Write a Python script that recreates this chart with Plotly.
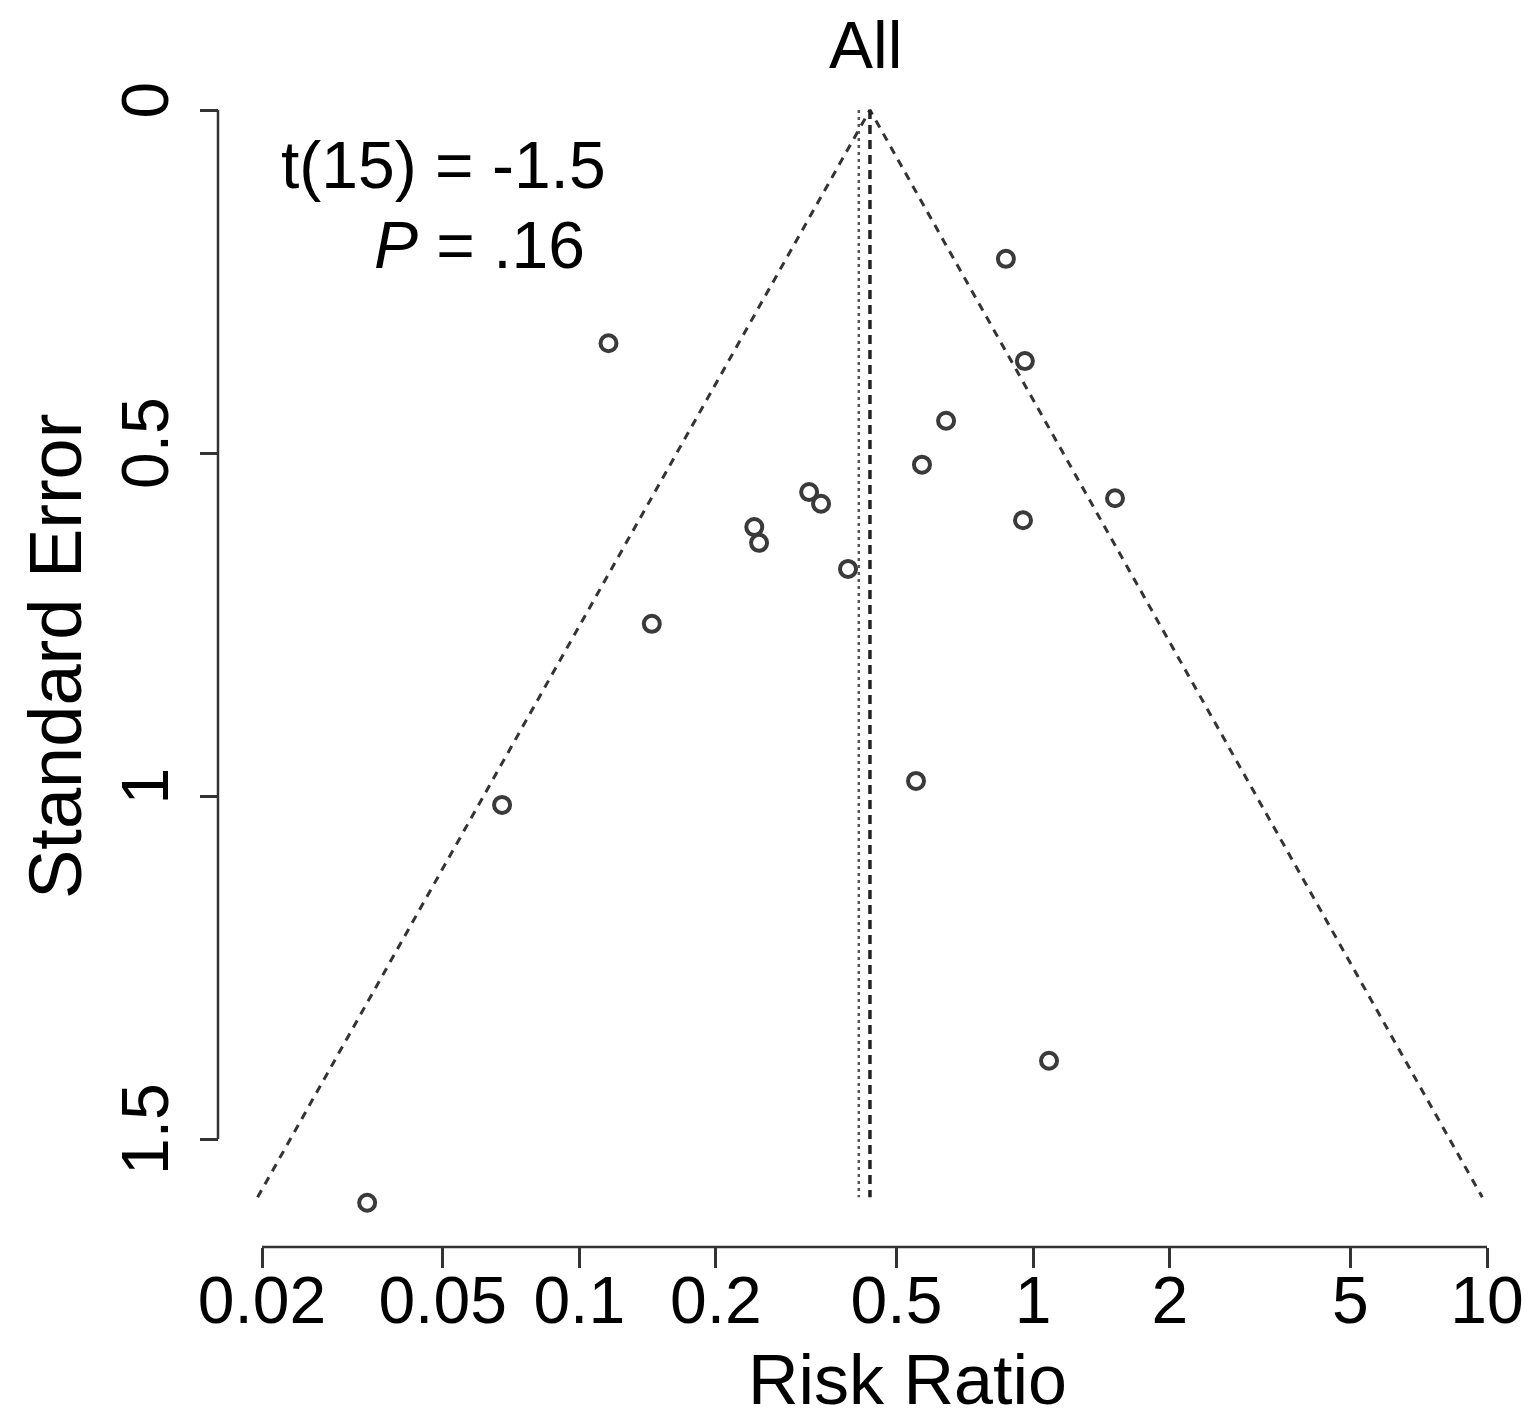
import plotly.graph_objects as go
import numpy as np

# ---- data ----
risk_ratio = [0.871, 0.116, 0.959, 0.643, 0.569, 0.321, 0.341, 1.515, 0.243,
              0.249, 0.950, 0.391, 0.1445, 0.0676, 0.552, 1.084, 0.0341]
std_error = [0.217, 0.340, 0.366, 0.453, 0.517, 0.557, 0.574, 0.566, 0.608,
             0.631, 0.598, 0.669, 0.749, 1.013, 0.978, 1.386, 1.593]
pooled_rr = 0.437          # dashed centre line / funnel apex
adjusted_rr = 0.413        # dotted line
se_max = 1.585             # bottom of the funnel
x_ticks = [0.02, 0.05, 0.1, 0.2, 0.5, 1, 2, 5, 10]
x_tick_labels = ["0.02", "0.05", "0.1", "0.2", "0.5", "1", "2", "5", "10"]
y_ticks = [0, 0.5, 1, 1.5]
y_tick_labels = ["0", "0.5", "1", "1.5"]
title_text = "All"
x_title = "Risk Ratio"
y_title = "Standard Error"
stat_lines = ["t(15) = -1.5", "<i>P</i> = .16"]

# ---- layout geometry (page has an 8px body margin) ----
OFF = 8
W, H = 1536 - OFF, 1425 - OFF
ML, MR, MT, MB = 218 - OFF, 26 - OFF, 95 - OFF, 178
PW, PH = W - ML - MR, H - MT - MB
FONT = "Liberation Sans, Arial, Helvetica, sans-serif"
FS = 66
LINE = "#333333"


def px(x):
    return (x - OFF - ML) / PW


def py(y):
    return (H - MB - (y - OFF)) / PH


z = 1.96
lo = pooled_rr * np.exp(-z * se_max)
hi = pooled_rr * np.exp(z * se_max)

fig = go.Figure()
fig.add_trace(go.Scatter(x=[lo, pooled_rr, hi], y=[se_max, 0, se_max], mode="lines",
                         line=dict(color=LINE, width=3, dash="8px,7px"),
                         hoverinfo="skip", showlegend=False))
fig.add_trace(go.Scatter(x=[pooled_rr, pooled_rr], y=[0, se_max], mode="lines",
                         line=dict(color="#222222", width=3.5, dash="9px,6px"),
                         hoverinfo="skip", showlegend=False))
fig.add_trace(go.Scatter(x=[adjusted_rr, adjusted_rr], y=[0, se_max], mode="lines",
                         line=dict(color="#555555", width=2.5, dash="3px,4px"),
                         hoverinfo="skip", showlegend=False))
fig.add_trace(go.Scatter(x=risk_ratio, y=std_error, mode="markers",
                         marker=dict(symbol="circle-open", size=16, color="#3a3a3a",
                                     line=dict(width=4, color="#3a3a3a")),
                         showlegend=False))

# axis lines spanning only the tick range (R style)
fig.add_shape(type="line", xref="x", yref="paper", x0=x_ticks[0], x1=x_ticks[-1],
              y0=0, y1=0, line=dict(color=LINE, width=2.5))
fig.add_shape(type="line", xref="paper", yref="y", x0=0, x1=0,
              y0=y_ticks[0], y1=y_ticks[-1], line=dict(color=LINE, width=2.5))

# x range: 0.02 at px 262, 10 at px 1487 (screen)
ppd = (1487 - 262) / (np.log10(10) - np.log10(0.02))
x_left_px, x_right_px = 240, 1536 - MR
xr = [np.log10(0.02) - (262 - x_left_px) / ppd, 1 + (x_right_px - 1487) / ppd]
# y: 0 at px 110, 686 px per unit
ppu = 686.0
y_top_px, y_bot_px = 95, 1215
yr = [(y_bot_px - 110) / ppu, (y_top_px - 110) / ppu]

fig.update_layout(
    width=W, height=H, template="none",
    paper_bgcolor="white", plot_bgcolor="white",
    margin=dict(l=ML, r=MR, t=MT, b=MB, autoexpand=False),
    font=dict(family=FONT, size=FS, color="black"),
    xaxis=dict(type="log", range=xr, domain=[px(x_left_px), 1], anchor="free", position=0,
               tickvals=x_ticks, ticktext=x_tick_labels, ticks="outside", ticklen=20,
               tickwidth=2.5, tickcolor=LINE, showline=False, showgrid=False,
               zeroline=False, automargin=False, tickfont=dict(size=FS, family=FONT),
               ticklabelstandoff=-24),
    yaxis=dict(range=yr, domain=[py(y_bot_px), 1], anchor="free", position=0,
               tickvals=y_ticks, ticktext=y_tick_labels, ticks="outside", ticklen=18,
               tickwidth=2.5, tickcolor=LINE, tickangle=-90, showline=False,
               showgrid=False, zeroline=False, automargin=False,
               tickfont=dict(size=FS, family=FONT), ticklabelstandoff=6),
)

fig.add_annotation(text=title_text, xref="paper", yref="paper", x=px(865), y=py(45),
                   showarrow=False, font=dict(size=FS), xanchor="center", yanchor="middle")
fig.add_annotation(text=x_title, xref="paper", yref="paper", x=px(907), y=py(1380),
                   showarrow=False, font=dict(size=70), xanchor="center", yanchor="middle")
fig.add_annotation(text=y_title, xref="paper", yref="paper", x=px(55), y=py(657),
                   showarrow=False, font=dict(size=74), textangle=-90,
                   xanchor="center", yanchor="middle")
fig.add_annotation(text=stat_lines[0], xref="paper", yref="paper", x=px(608), y=py(165),
                   showarrow=False, font=dict(size=FS), xanchor="right", yanchor="middle")
fig.add_annotation(text=stat_lines[1], xref="paper", yref="paper", x=px(587), y=py(245),
                   showarrow=False, font=dict(size=FS), xanchor="right", yanchor="middle")

fig.write_html("out.html")
